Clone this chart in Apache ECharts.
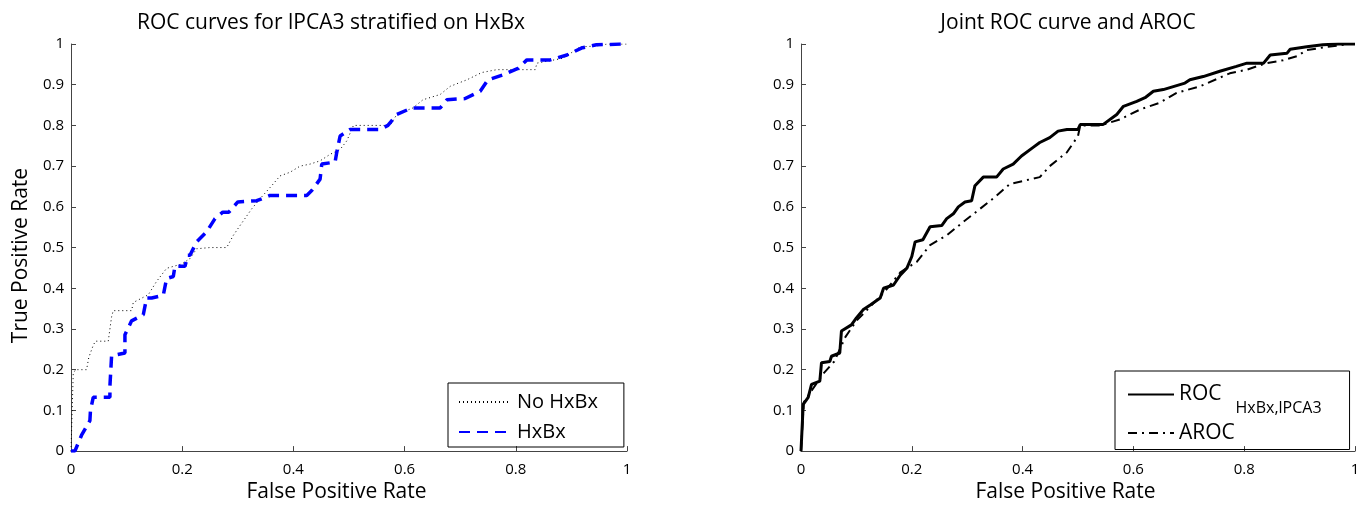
<!DOCTYPE html>
<html><head><meta charset="utf-8">
<script src="https://cdn.jsdelivr.net/npm/echarts@6/dist/echarts.min.js"></script>
<style>html,body{margin:0;padding:0;background:#fff}#c{width:1369px;height:508px}</style>
</head><body><div id="c"></div>
<script>
const xTicks = [0, 0.2, 0.4, 0.6, 0.8, 1];
const yTicks = [0, 0.1, 0.2, 0.3, 0.4, 0.5, 0.6, 0.7, 0.8, 0.9, 1];
const seriesNames = ['No HxBx', 'HxBx', 'ROC', 'AROC'];
const noHxBx = [[0,0],[0.004,0.19],[0.008,0.2],[0.028,0.2],[0.032,0.23],[0.04,0.26],[0.044,0.27],[0.067,0.27],[0.073,0.33],[0.076,0.345],[0.109,0.345],[0.112,0.365],[0.139,0.384],[0.154,0.417],[0.172,0.449],[0.2,0.46],[0.214,0.473],[0.226,0.497],[0.25,0.5],[0.28,0.5],[0.292,0.53],[0.304,0.554],[0.325,0.595],[0.34,0.62],[0.361,0.652],[0.376,0.676],[0.394,0.685],[0.412,0.70],[0.43,0.705],[0.448,0.713],[0.466,0.729],[0.484,0.741],[0.496,0.762],[0.508,0.80],[0.574,0.80],[0.586,0.827],[0.615,0.843],[0.633,0.863],[0.664,0.876],[0.682,0.896],[0.712,0.912],[0.739,0.93],[0.766,0.937],[0.835,0.937],[0.838,0.953],[0.885,0.965],[0.916,0.993],[0.945,0.995],[0.964,1],[1,1]];
const hxBx = [[0,0],[0.007,0],[0.019,0.039],[0.034,0.075],[0.035,0.1],[0.04,0.132],[0.07,0.132],[0.07,0.16],[0.073,0.234],[0.097,0.241],[0.097,0.286],[0.109,0.32],[0.13,0.335],[0.136,0.376],[0.145,0.376],[0.166,0.383],[0.172,0.424],[0.184,0.429],[0.187,0.454],[0.205,0.454],[0.21,0.481],[0.214,0.481],[0.226,0.514],[0.244,0.539],[0.259,0.571],[0.273,0.587],[0.284,0.587],[0.3,0.612],[0.334,0.615],[0.358,0.628],[0.424,0.628],[0.433,0.64],[0.448,0.668],[0.451,0.705],[0.475,0.71],[0.478,0.734],[0.484,0.774],[0.502,0.79],[0.556,0.79],[0.57,0.80],[0.586,0.827],[0.613,0.843],[0.664,0.843],[0.676,0.863],[0.709,0.866],[0.736,0.884],[0.75,0.912],[0.777,0.924],[0.804,0.94],[0.82,0.961],[0.862,0.961],[0.892,0.973],[0.918,0.99],[0.945,0.998],[0.993,1],[1,1]];
const rocJoint = [[0,0],[0.004,0.115],[0.013,0.132],[0.019,0.164],[0.034,0.172],[0.037,0.217],[0.052,0.22],[0.055,0.233],[0.07,0.241],[0.073,0.295],[0.091,0.31],[0.1,0.327],[0.112,0.347],[0.125,0.359],[0.143,0.376],[0.149,0.40],[0.167,0.408],[0.179,0.432],[0.191,0.449],[0.2,0.478],[0.206,0.514],[0.22,0.519],[0.233,0.551],[0.254,0.554],[0.263,0.571],[0.275,0.583],[0.284,0.60],[0.296,0.612],[0.308,0.615],[0.314,0.652],[0.329,0.673],[0.353,0.673],[0.365,0.693],[0.383,0.705],[0.398,0.725],[0.419,0.746],[0.431,0.758],[0.449,0.77],[0.464,0.786],[0.48,0.79],[0.5,0.79],[0.504,0.802],[0.545,0.802],[0.57,0.827],[0.582,0.847],[0.606,0.859],[0.621,0.868],[0.636,0.884],[0.654,0.888],[0.693,0.904],[0.702,0.912],[0.726,0.92],[0.756,0.933],[0.786,0.945],[0.805,0.953],[0.835,0.953],[0.847,0.973],[0.877,0.977],[0.883,0.987],[0.913,0.993],[0.942,0.998],[0.97,1],[1,1]];
const aroc = [[0,0],[0.005,0.12],[0.02,0.15],[0.04,0.19],[0.06,0.22],[0.08,0.28],[0.1,0.32],[0.15,0.39],[0.18,0.44],[0.209,0.465],[0.233,0.506],[0.263,0.53],[0.293,0.563],[0.323,0.595],[0.35,0.624],[0.377,0.656],[0.431,0.673],[0.449,0.70],[0.48,0.734],[0.5,0.774],[0.504,0.80],[0.541,0.80],[0.576,0.815],[0.612,0.839],[0.648,0.856],[0.678,0.88],[0.72,0.896],[0.774,0.928],[0.805,0.937],[0.84,0.953],[0.87,0.96],[0.895,0.97],[0.913,0.985],[0.95,0.993],[0.99,1],[1,1]];

const FONT = '"Open Sans", "Noto Sans", sans-serif';
function xAxis(idx) {
  return {
    type: 'value', gridIndex: idx, min: 0, max: 1, interval: 0.2,
    name: 'False Positive Rate', nameLocation: 'middle', nameGap: 28,
    nameTextStyle: { fontSize: 21, color: '#000', fontFamily: FONT, padding: [0, 25, 0, 0] },
    axisLine: { show: true, lineStyle: { color: '#444', width: 1 } },
    axisTick: { show: true, inside: true, length: 5, lineStyle: { color: '#444' } },
    axisLabel: { fontSize: 15, color: '#000', fontFamily: FONT, margin: 11 },
    splitLine: { show: false }
  };
}
function yAxis(idx, named) {
  return {
    type: 'value', gridIndex: idx, min: 0, max: 1, interval: 0.1,
    name: named ? 'True Positive Rate' : '', nameLocation: 'middle', nameGap: 39,
    nameTextStyle: { fontSize: 21, color: '#000', fontFamily: FONT, padding: [0, 16, 0, 0] },
    axisLine: { show: true, lineStyle: { color: '#444', width: 1 } },
    axisTick: { show: true, inside: true, length: 5, lineStyle: { color: '#444' } },
    axisLabel: { fontSize: 15, color: '#000', fontFamily: FONT, margin: 7 },
    splitLine: { show: false }
  };
}
const chart = echarts.init(document.getElementById('c'));
chart.setOption({
  animation: false,
  backgroundColor: '#fff',
  title: [
    { text: 'ROC curves for lPCA3 stratified on HxBx', left: 326, top: 8, textAlign: 'center',
      textStyle: { fontSize: 21, fontWeight: 'normal', color: '#000', fontFamily: FONT } },
    { text: 'Joint ROC curve and AROC', left: 1063, top: 8, textAlign: 'center',
      textStyle: { fontSize: 21, fontWeight: 'normal', color: '#000', fontFamily: FONT } }
  ],
  grid: [
    { left: 71, right: 742, top: 44, bottom: 54 },
    { left: 801, right: 14, top: 44, bottom: 54 }
  ],
  xAxis: [xAxis(0), xAxis(1)],
  yAxis: [yAxis(0, true), yAxis(1, false)],
  legend: [
    { data: [seriesNames[0], seriesNames[1]], orient: 'vertical', left: 448, top: 383,
      itemWidth: 49, itemHeight: 14, itemGap: 10,
      padding: [9, 26, 5, 10], borderColor: '#000', borderWidth: 1,
      itemStyle: { opacity: 0 },
      textStyle: { fontSize: 20, color: '#000', fontFamily: FONT, padding: [0, 0, 0, 4] } },
    { data: [seriesNames[2], seriesNames[3]], orient: 'vertical', left: 1115, top: 371,
      itemWidth: 46, itemHeight: 14, itemGap: 6,
      padding: [13, 28, 6, 12], borderColor: '#000', borderWidth: 1,
      itemStyle: { opacity: 0 },
      formatter: function (n) { return n === 'ROC' ? '{a|ROC}{b|HxBx,lPCA3}' : '{a|' + n + '}'; },
      textStyle: { fontSize: 21, color: '#000', fontFamily: FONT,
        rich: { a: { fontSize: 21, color: '#000', fontFamily: FONT, verticalAlign: 'middle' },
                b: { fontSize: 16, color: '#000', fontFamily: FONT, verticalAlign: 'bottom', padding: [28, 0, 0, 14] } } } }
  ],
  series: [
    { name: seriesNames[0], type: 'line', xAxisIndex: 0, yAxisIndex: 0, data: noHxBx, showSymbol: false, symbol: 'none',
      lineStyle: { color: '#000', width: 1, type: [1, 3] }, itemStyle: { color: '#000' } },
    { name: seriesNames[1], type: 'line', xAxisIndex: 0, yAxisIndex: 0, data: hxBx, showSymbol: false, symbol: 'none',
      lineStyle: { color: '#0000ff', width: 3.5, type: [11, 7] }, itemStyle: { color: '#0000ff' } },
    { name: seriesNames[2], type: 'line', xAxisIndex: 1, yAxisIndex: 1, data: rocJoint, showSymbol: false, symbol: 'none',
      lineStyle: { color: '#000', width: 3, type: 'solid' }, itemStyle: { color: '#000' } },
    { name: seriesNames[3], type: 'line', xAxisIndex: 1, yAxisIndex: 1, data: aroc, showSymbol: false, symbol: 'none',
      lineStyle: { color: '#000', width: 2, type: [9, 5, 2, 5] }, itemStyle: { color: '#000' } }
  ]
});
</script></body></html>
